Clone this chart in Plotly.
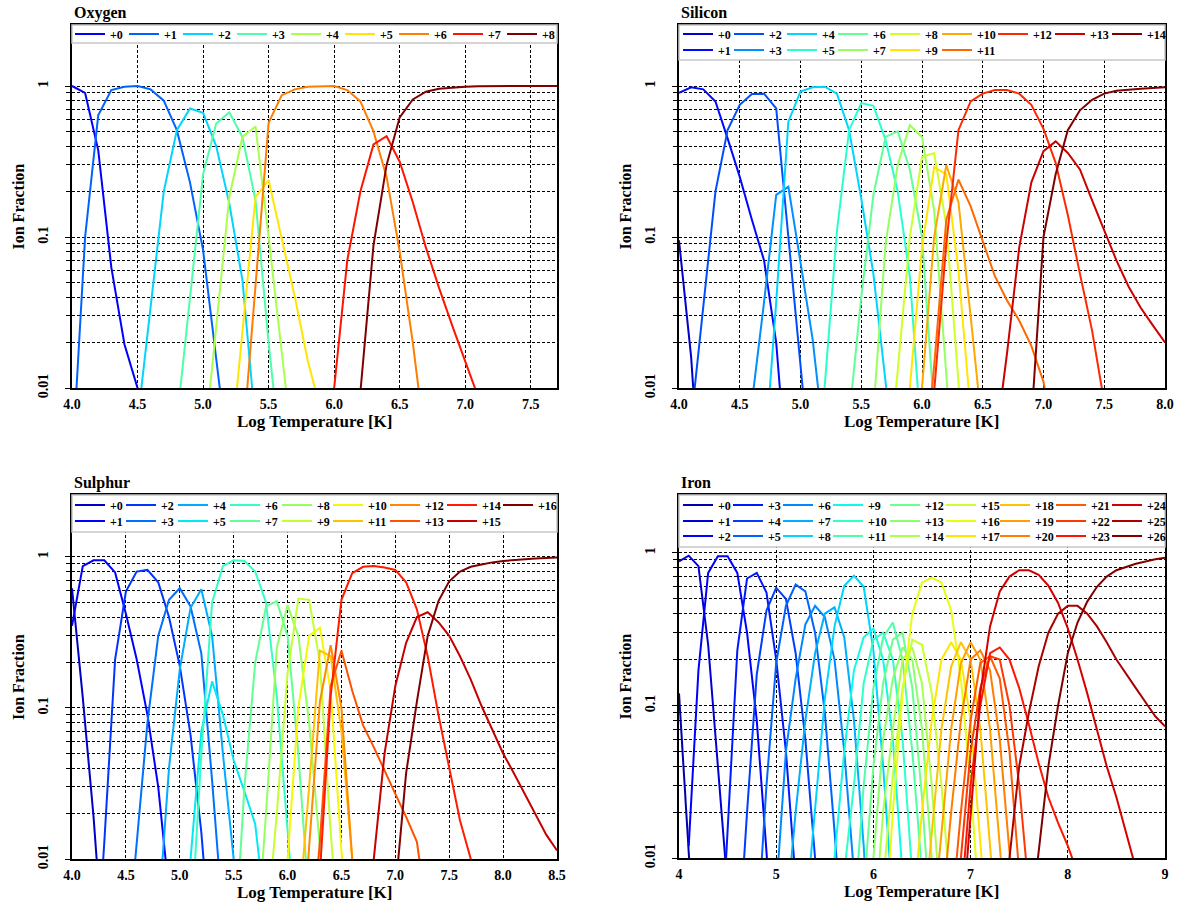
import numpy as np
import plotly.graph_objects as go

W, H = 1184, 906

# ---------------- data (log T grid step 0.1; each ion: first logT, fractions) ----------------
O_START = [4.0, 4.0, 4.5, 4.8, 5.0, 5.2, 5.3, 5.9, 6.1]
O_FRAC = [
    [1.0, 0.9, 0.376, 0.063, 0.0195, 0.01, 0.003],
    [0.003, 0.1, 0.64, 0.94, 0.99, 1.0, 0.95, 0.80, 0.51, 0.23, 0.082, 0.016, 0.003],
    [0.006, 0.035, 0.2, 0.51, 0.71, 0.665, 0.40, 0.167, 0.052, 0.0057],
    [0.006, 0.041, 0.26, 0.565, 0.67, 0.46, 0.175, 0.02, 0.003],
    [0.0035, 0.025, 0.184, 0.46, 0.54, 0.1, 0.02, 0.003],
    [0.003, 0.024, 0.184, 0.238, 0.1, 0.04, 0.015, 0.007],
    [0.004, 0.05, 0.57, 0.87, 0.95, 0.99, 1.0, 1.0, 0.94, 0.79, 0.50, 0.25, 0.08, 0.02, 0.004],
    [0.002, 0.01, 0.07, 0.2, 0.41, 0.465, 0.315, 0.17, 0.085, 0.046, 0.026, 0.015, 0.009, 0.005],
    [0.001, 0.009, 0.088, 0.30, 0.62, 0.815, 0.917, 0.96, 0.98, 0.99, 0.995, 1.0, 1.0, 1.0, 1.0, 1.0, 1.0],
]

SI_START = [4.0, 4.0, 4.1, 4.6, 4.7, 5.1, 5.3, 5.5, 5.7, 5.8, 5.9, 6.0, 6.0, 6.6, 6.8]
SI_FRAC = [
    [0.095, 0.016, 0.001],
    [0.90, 0.98, 0.95, 0.79, 0.45, 0.25, 0.13, 0.07, 0.02, 0.002],
    [0.006, 0.034, 0.2, 0.51, 0.75, 0.885, 0.89, 0.71, 0.1, 0.013, 0.002],
    [0.008, 0.037, 0.19, 0.215, 0.068, 0.021, 0.004],
    [0.003, 0.037, 0.58, 0.92, 0.98, 0.99, 0.89, 0.51, 0.18, 0.057, 0.011, 0.002],
    [0.001, 0.01, 0.11, 0.51, 0.77, 0.74, 0.44, 0.2, 0.055, 0.004],
    [0.001, 0.006, 0.04, 0.19, 0.46, 0.50, 0.28, 0.1, 0.007],
    [0.001, 0.007, 0.09, 0.3, 0.55, 0.46, 0.15, 0.012, 0.001],
    [0.002, 0.013, 0.1, 0.34, 0.36, 0.12, 0.011, 0.001],
    [0.001, 0.01, 0.085, 0.29, 0.26, 0.06, 0.007],
    [0.001, 0.01, 0.1, 0.30, 0.17, 0.03, 0.005],
    [0.002, 0.014, 0.13, 0.24, 0.16, 0.095, 0.055, 0.038, 0.028, 0.019, 0.011, 0.004],
    [0.001, 0.01, 0.09, 0.51, 0.79, 0.89, 0.94, 0.94, 0.89, 0.75, 0.52, 0.31, 0.14, 0.057, 0.024, 0.008],
    [0.004, 0.017, 0.085, 0.23, 0.37, 0.43, 0.36, 0.28, 0.175, 0.11, 0.07, 0.047, 0.034, 0.026, 0.02],
    [0.001, 0.006, 0.1, 0.26, 0.51, 0.69, 0.81, 0.89, 0.93, 0.95, 0.96, 0.97, 0.98],
]

S_START = [4.0, 4.0, 4.2, 4.5, 4.8, 5.0, 5.1, 5.5, 5.7, 5.8, 5.9, 6.0, 6.1, 6.2, 6.2, 6.7, 6.9]
S_FRAC = [
    [0.62, 0.117, 0.019, 0.002],
    [0.35, 0.87, 0.95, 0.95, 0.79, 0.42, 0.21, 0.09, 0.03, 0.006],
    [0.001, 0.013, 0.21, 0.59, 0.80, 0.82, 0.68, 0.40, 0.19, 0.066, 0.015, 0.002],
    [0.002, 0.012, 0.08, 0.3, 0.52, 0.62, 0.47, 0.23, 0.033, 0.004],
    [0.004, 0.04, 0.18, 0.46, 0.61, 0.3, 0.05, 0.01, 0.002],
    [0.001, 0.01, 0.07, 0.15, 0.09, 0.045, 0.028, 0.017, 0.004],
    [0.003, 0.05, 0.5, 0.87, 0.95, 0.94, 0.8, 0.5, 0.12, 0.017, 0.002],
    [0.002, 0.03, 0.2, 0.47, 0.51, 0.3, 0.05, 0.005],
    [0.002, 0.02, 0.25, 0.48, 0.3, 0.08, 0.012, 0.002],
    [0.003, 0.02, 0.17, 0.53, 0.52, 0.2, 0.015, 0.002],
    [0.001, 0.01, 0.1, 0.3, 0.34, 0.13, 0.01, 0.001],
    [0.001, 0.004, 0.03, 0.24, 0.22, 0.07, 0.01, 0.001],
    [0.001, 0.012, 0.11, 0.26, 0.1, 0.012, 0.001],
    [0.002, 0.013, 0.14, 0.24, 0.13, 0.077, 0.055, 0.038, 0.027, 0.019, 0.013, 0.004],
    [0.001, 0.008, 0.12, 0.52, 0.78, 0.86, 0.87, 0.85, 0.82, 0.68, 0.45, 0.22, 0.09, 0.04, 0.018, 0.01, 0.004],
    [0.002, 0.01, 0.05, 0.14, 0.27, 0.4, 0.43, 0.37, 0.30, 0.22, 0.154, 0.103, 0.072, 0.05, 0.037, 0.027, 0.02, 0.0145, 0.0114],
    [0.001, 0.006, 0.037, 0.11, 0.3, 0.51, 0.69, 0.80, 0.86, 0.89, 0.92, 0.94, 0.955, 0.965, 0.975, 0.985, 0.99],
]

FE_START = [4.0, 4.0, 4.1, 4.4, 4.6, 4.8, 5.0, 5.1, 5.3, 5.5, 5.7, 5.8, 5.9, 6.0, 6.0, 6.1, 6.1,
            6.4, 6.5, 6.6, 6.7, 6.8, 6.8, 6.8, 6.9, 7.3, 7.6]
FE_FRAC = [
    [0.12, 0.012, 0.001],
    [0.88, 0.96, 0.82, 0.25, 0.04, 0.008, 0.001],
    [0.012, 0.17, 0.74, 0.95, 0.95, 0.74, 0.3, 0.08, 0.011, 0.001],
    [0.001, 0.015, 0.23, 0.68, 0.74, 0.55, 0.2, 0.05, 0.009, 0.001],
    [0.002, 0.02, 0.16, 0.42, 0.59, 0.5, 0.22, 0.06, 0.01, 0.001],
    [0.003, 0.03, 0.19, 0.45, 0.62, 0.56, 0.3, 0.09, 0.015, 0.002],
    [0.006, 0.05, 0.15, 0.34, 0.45, 0.38, 0.2, 0.05, 0.008, 0.001],
    [0.004, 0.02, 0.08, 0.22, 0.4, 0.44, 0.28, 0.08, 0.012, 0.001],
    [0.004, 0.02, 0.11, 0.33, 0.61, 0.71, 0.6, 0.23, 0.04, 0.005],
    [0.002, 0.01, 0.05, 0.17, 0.28, 0.32, 0.2, 0.06, 0.01, 0.001],
    [0.008, 0.03, 0.14, 0.27, 0.3, 0.2, 0.06, 0.01, 0.001],
    [0.004, 0.03, 0.13, 0.28, 0.35, 0.2, 0.05, 0.008],
    [0.006, 0.04, 0.14, 0.27, 0.3, 0.13, 0.025, 0.003],
    [0.01, 0.06, 0.15, 0.24, 0.2, 0.07, 0.01, 0.001],
    [0.003, 0.02, 0.07, 0.2, 0.24, 0.14, 0.03, 0.004],
    [0.007, 0.035, 0.13, 0.27, 0.25, 0.12, 0.03, 0.005],
    [0.002, 0.02, 0.12, 0.4, 0.64, 0.69, 0.64, 0.42, 0.15, 0.03, 0.004],
    [0.004, 0.02, 0.08, 0.2, 0.26, 0.2, 0.08, 0.015, 0.002],
    [0.003, 0.015, 0.07, 0.18, 0.26, 0.2, 0.07, 0.012, 0.002],
    [0.003, 0.015, 0.07, 0.19, 0.26, 0.2, 0.07, 0.012, 0.002],
    [0.004, 0.02, 0.08, 0.2, 0.23, 0.17, 0.06, 0.01, 0.002],
    [0.004, 0.02, 0.08, 0.19, 0.21, 0.15, 0.05, 0.008],
    [0.002, 0.01, 0.05, 0.13, 0.21, 0.2, 0.1, 0.03, 0.006],
    [0.001, 0.005, 0.03, 0.1, 0.22, 0.24, 0.2, 0.13, 0.075, 0.042, 0.025, 0.017, 0.012, 0.008],
    [0.003, 0.02, 0.12, 0.33, 0.56, 0.7, 0.77, 0.77, 0.72, 0.61, 0.47, 0.32, 0.2, 0.12, 0.07, 0.04, 0.025, 0.015, 0.009, 0.005],
    [0.003, 0.01, 0.04, 0.09, 0.18, 0.3, 0.4, 0.45, 0.45, 0.4, 0.33, 0.26, 0.2, 0.16, 0.13, 0.105, 0.085, 0.073],
    [0.003, 0.011, 0.04, 0.1, 0.22, 0.35, 0.48, 0.6, 0.7, 0.77, 0.81, 0.85, 0.88, 0.91, 0.93],
]

ELEMENTS = ["Oxygen", "Silicon", "Sulphur", "Iron"]
X_RANGES = [[4.0, 7.7], [4.0, 8.0], [4.0, 8.5], [4.0, 9.0]]
X_DTICK = [0.5, 0.5, 0.5, 1.0]
X_FMT = [".1f", ".1f", ".1f", "d"]

# ---------------- layout geometry (pixels) ----------------
PANEL_PX = [  # x0, x1, ytop, ybottom
    (72, 557, 25, 388),
    (679, 1165, 25, 388),
    (72, 557, 495, 859),
    (679, 1165, 495, 858),
]
Y_TOP_LOG = [0.404, 0.404, 0.41, 0.38]
LEG_BOX_BOTTOM = [43, 60, 532, 547]
LEG_ROWS_Y = [[34], [34, 50], [505, 521], [505, 521, 536]]
LEG_LINE_X0 = [75, 683, 75, 683]
LEG_COL_STEPS = [
    [54] * 9,
    [51, 53, 51, 52, 52, 56, 57, 57, 57],
    [51, 52, 52, 52, 51, 57, 57, 56, 56],
    [50, 50, 50, 57, 56, 54, 56, 56, 56],
]
NCOL = 9

SERIF = "Liberation Serif"


def jet(v):
    r = np.interp(v, [0, 0.35, 0.66, 0.89, 1], [0, 0, 1, 1, 0.5])
    g = np.interp(v, [0, 0.125, 0.375, 0.64, 0.91, 1], [0, 0, 1, 1, 0, 0])
    b = np.interp(v, [0, 0.11, 0.34, 0.65, 1], [0.5, 1, 1, 0, 0])
    return "rgb(%d,%d,%d)" % (round(r * 255), round(g * 255), round(b * 255))


def column_layout(n, ncol):
    """matplotlib-style column-major legend: returns (row, col) for each item"""
    nrows = int(np.ceil(n / ncol))
    nbig = n % ncol if n % ncol else ncol
    pos = []
    idx = 0
    for c in range(ncol):
        rows_here = nrows if c < nbig else nrows - 1
        for r in range(rows_here):
            if idx < n:
                pos.append((r, c))
                idx += 1
    return pos


fig = go.Figure()
layout = dict(
    width=W, height=H, margin=dict(l=0, r=0, t=0, b=0),
    paper_bgcolor="white", plot_bgcolor="white", showlegend=True,
    font=dict(family=SERIF, color="black"),
)
shapes = []
annotations = []
legend_counter = 0

all_data = [(O_START, O_FRAC), (SI_START, SI_FRAC), (S_START, S_FRAC), (FE_START, FE_FRAC)]

for p, (starts, fracs) in enumerate(all_data):
    x0, x1, yt, yb = PANEL_PX[p]
    ax = "" if p == 0 else str(p + 1)
    n = len(fracs)
    pos = column_layout(n, NCOL)
    nrows = max(r for r, c in pos) + 1
    last_col = {}
    for r, c in pos:
        last_col[r] = max(last_col.get(r, -1), c)
    leg_names = []
    for r in range(nrows):
        legend_counter += 1
        name = "legend" if legend_counter == 1 else "legend%d" % legend_counter
        leg_names.append(name)
        layout[name] = dict(
            x=(LEG_LINE_X0[p] - 5) / W, xanchor="left",
            y=1 - LEG_ROWS_Y[p][r] / H, yanchor="middle",
            orientation="h", bgcolor="rgba(0,0,0,0)", borderwidth=0,
            font=dict(family=SERIF, size=12, color="black", weight="bold"),
            itemwidth=30, tracegroupgap=0, traceorder="normal",
        )
    for i in range(n):
        vals = fracs[i]
        xs = [round(starts[i] + 0.1 * k, 2) for k in range(len(vals))]
        r, c = pos[i]
        lw = 26 if c == last_col[r] else max(LEG_COL_STEPS[p][c] - 45, 1)
        fig.add_trace(go.Scatter(
            x=xs, y=vals, mode="lines", name="+%d" % i,
            line=dict(color=jet((i + 1) / n), width=2),
            xaxis="x" + ax, yaxis="y" + ax,
            legend=leg_names[r], legendwidth=lw,
            hoverinfo="skip",
        ))

    minor_vals = [k * 0.01 for k in range(2, 10)] + [k * 0.1 for k in range(2, 10)]
    layout["xaxis" + ax] = dict(
        domain=[x0 / W, x1 / W], anchor="y" + ax, range=X_RANGES[p],
        tick0=4, dtick=X_DTICK[p], tickformat=X_FMT[p],
        showgrid=True, gridcolor="black", griddash="3px,2px", gridwidth=1,
        showline=True, linecolor="black", linewidth=1.5, mirror=True,
        ticks="", zeroline=False, automargin=False, ticklabelstandoff=2,
        tickfont=dict(family=SERIF, size=14, color="black", weight="bold"),
    )
    layout["yaxis" + ax] = dict(
        domain=[1 - yb / H, 1 - yt / H], anchor="x" + ax, type="log",
        range=[-2, Y_TOP_LOG[p]],
        tickvals=[0.01, 0.1, 1], ticktext=["0.01", "0.1", "1"], tickangle=-90,
        showgrid=True, gridcolor="black", griddash="3px,2px", gridwidth=1,
        showline=True, linecolor="black", linewidth=1.5, mirror=True,
        ticks="outside", ticklen=5, tickcolor="black", zeroline=False, automargin=False,
        ticklabelstandoff=12,
        tickfont=dict(family=SERIF, size=14, color="black", weight="bold"),
        minor=dict(tickvals=minor_vals, showgrid=True, gridcolor="black",
                   griddash="3px,2px", gridwidth=1, ticks="outside", ticklen=4,
                   tickcolor="black"),
    )
    # legend box
    shapes.append(dict(
        type="rect", xref="paper", yref="paper", layer="above",
        x0=x0 / W, x1=x1 / W, y0=1 - LEG_BOX_BOTTOM[p] / H, y1=1 - yt / H,
        fillcolor="white", line=dict(color="#c8c8c8", width=1.5),
    ))
    # titles
    annotations.append(dict(
        text="<b>%s</b>" % ELEMENTS[p], xref="paper", yref="paper",
        x=x0 / W, y=1 - (yt - 12) / H, xanchor="left", yanchor="middle",
        showarrow=False, font=dict(family=SERIF, size=16, color="black"),
    ))
    annotations.append(dict(
        text="<b>Log Temperature [K]</b>", xref="paper", yref="paper",
        x=(x0 + x1) / 2 / W, y=1 - (yb + 33) / H, xanchor="center", yanchor="middle",
        showarrow=False, font=dict(family=SERIF, size=17, color="black"),
    ))
    annotations.append(dict(
        text="<b>Ion Fraction</b>", xref="paper", yref="paper",
        x=(x0 - 54) / W, y=1 - (yt + yb) / 2 / H, xanchor="center", yanchor="middle",
        textangle=-90, showarrow=False, font=dict(family=SERIF, size=16, color="black"),
    ))

layout["shapes"] = shapes
layout["annotations"] = annotations
fig.update_layout(**layout)
fig.write_html("out.html", config={"displayModeBar": False},
               post_script="document.body.style.margin='0';document.body.style.overflow='hidden';")
